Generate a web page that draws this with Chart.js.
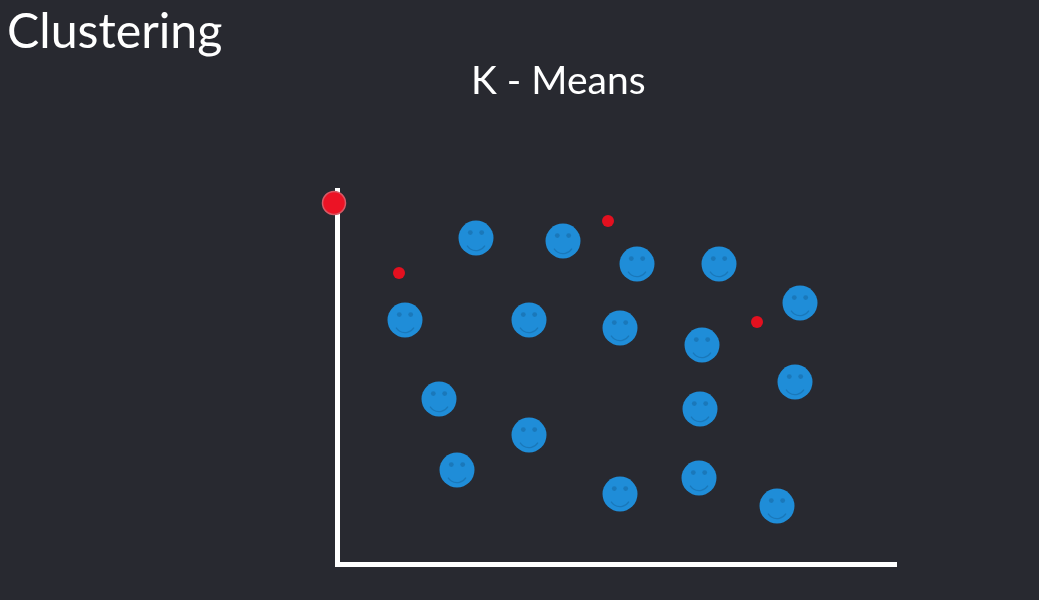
<!DOCTYPE html>
<html>
<head>
<meta charset="utf-8">
<title>Clustering</title>
<script src="https://cdn.jsdelivr.net/npm/chart.js@4"></script>
<style>
  html,body{margin:0;padding:0;background:#282930;overflow:hidden}
  #wrap{position:relative;width:1039px;height:600px}
  canvas{position:absolute;left:0;top:0}
  .txt{position:absolute;color:#fff;font-family:Lato,sans-serif;white-space:nowrap;line-height:1}
  #heading{left:7px;top:5px;font-size:48.3px}
  #subtitle{left:471px;top:60px;font-size:39px}
</style>
</head>
<body>
<div id="wrap">
  <canvas id="chart" width="1039" height="600"></canvas>
  <div id="heading" class="txt">Clustering</div>
  <div id="subtitle" class="txt">K - Means</div>
</div>
<script>
// valores
const faceX = [139,226,300,382,463,68,192,283,365,458,102,363,192,120,283,362,440];
const faceY = [326,323,300,300,261,244,244,236,219,182,165,155,129,94,70,86,58];
const centroidX = [62,271,420];
const centroidY = [291,343,242];
const startX = [-3];
const startY = [361];

function points(xs,ys){
  return xs.map((x,i)=>({x:x,y:ys[i]}));
}

// carinha sorridente usada como pointStyle
function makeFace(){
  const c = document.createElement('canvas');
  c.width = 36; c.height = 36;
  const g = c.getContext('2d');
  g.fillStyle = '#1f8dd8';
  g.beginPath(); g.arc(18,18,17.5,0,Math.PI*2); g.fill();
  g.fillStyle = '#1a78ba';
  g.beginPath(); g.arc(12.3,12.6,2.4,0,Math.PI*2); g.fill();
  g.beginPath(); g.arc(23.7,12.6,2.4,0,Math.PI*2); g.fill();
  g.strokeStyle = '#1a78ba';
  g.lineWidth = 1.2;
  g.beginPath(); g.arc(18,20,10.6,Math.PI*0.18,Math.PI*0.82); g.stroke();
  return c;
}

new Chart(document.getElementById('chart'),{
  type:'scatter',
  data:{datasets:[
    {label:'Pontos',data:points(faceX,faceY),pointStyle:makeFace(),pointRadius:18,clip:false},
    {label:'Centroides',data:points(centroidX,centroidY),pointRadius:6,backgroundColor:'#e3101f',borderWidth:0,clip:false},
    {label:'Inicio',data:points(startX,startY),pointRadius:11.5,backgroundColor:'#ec1325',borderColor:'#d65a66',borderWidth:1.5,clip:false}
  ]},
  options:{
    responsive:false,
    animation:false,
    layout:{padding:{left:329,right:143,top:190,bottom:28}},
    plugins:{legend:{display:false},tooltip:{enabled:false}},
    scales:{
      x:{type:'linear',min:0,max:559,ticks:{display:false},grid:{display:false},border:{color:'#fff',width:5}},
      y:{type:'linear',min:0,max:374,ticks:{display:false},grid:{display:false},border:{color:'#fff',width:5}}
    }
  }
});
</script>
</body>
</html>
